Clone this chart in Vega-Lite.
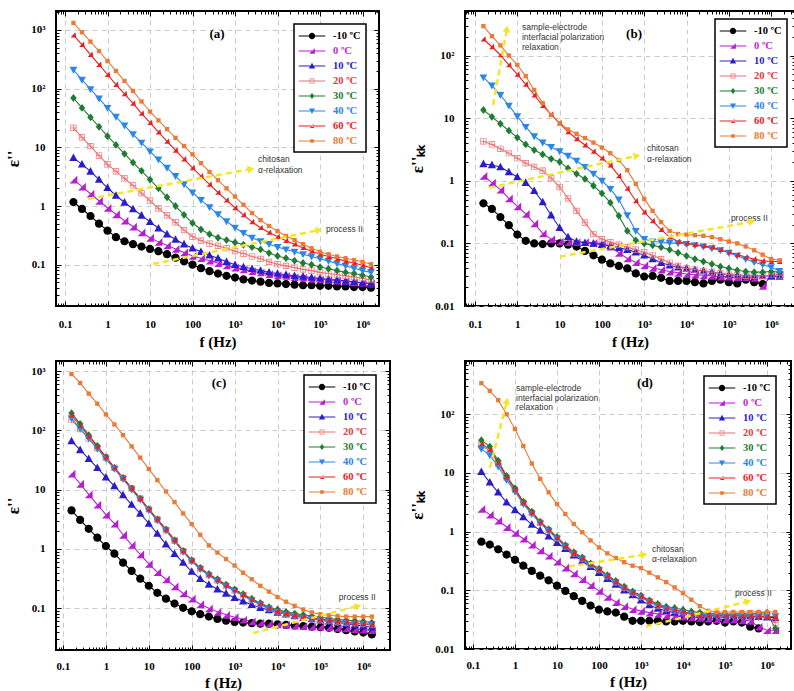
{
"$schema": "https://vega.github.io/schema/vega-lite/v6.json",
"background": "white",
"padding": {"left": 3, "top": 9, "right": 2, "bottom": 2},
"autosize": {"type": "pad"},
"columns": 2,
"spacing": {"row": 55, "column": 75},
"bounds": "flush",
"resolve": {"scale": {"color": "independent", "shape": "independent"}},
"config": {
 "view": {"stroke": "black", "strokeWidth": 2},
 "axis": {"domain": false, "tickColor": "black", "tickWidth": 1, "gridColor": "#c4c4c4", "gridDash": [5,4], "gridWidth": 0.9, "labelFont": "Liberation Serif", "labelFontWeight": "bold", "labelFontSize": 11, "labelColor": "black", "labelFlush": false, "labelOverlap": false, "titleFont": "Liberation Serif", "titleFontWeight": "bold", "titleColor": "black", "titleFontSize": 15},
 "legend": {"strokeColor": "black", "fillColor": "white", "padding": 5, "rowPadding": 2, "labelFont": "Liberation Serif", "labelFontWeight": "bold", "labelFontSize": 10.5, "symbolSize": 196, "symbolOffset": 6, "labelOffset": 14}
},
"datasets": {
"a": [
{"t":"-10","f":0.158,"v":1.17},{"t":"-10","f":0.251,"v":0.891},{"t":"-10","f":0.398,"v":0.676},{"t":"-10","f":0.631,"v":0.501},{"t":"-10","f":1,"v":0.38},{"t":"-10","f":1.58,"v":0.295},{"t":"-10","f":2.51,"v":0.251},{"t":"-10","f":3.98,"v":0.224},{"t":"-10","f":6.31,"v":0.204},{"t":"-10","f":10,"v":0.186},{"t":"-10","f":15.8,"v":0.17},{"t":"-10","f":25.1,"v":0.151},{"t":"-10","f":39.8,"v":0.132},{"t":"-10","f":63.1,"v":0.115},{"t":"-10","f":100,"v":0.1},{"t":"-10","f":158,"v":0.0871},{"t":"-10","f":251,"v":0.0776},{"t":"-10","f":398,"v":0.0708},{"t":"-10","f":631,"v":0.0646},{"t":"-10","f":1000,"v":0.0603},{"t":"-10","f":1580,"v":0.0562},{"t":"-10","f":2510,"v":0.0537},{"t":"-10","f":3980,"v":0.0513},{"t":"-10","f":6310,"v":0.049},{"t":"-10","f":10000,"v":0.0479},{"t":"-10","f":15800,"v":0.0468},{"t":"-10","f":25100,"v":0.0457},{"t":"-10","f":39800,"v":0.0447},{"t":"-10","f":63100,"v":0.0447},{"t":"-10","f":100000,"v":0.0437},{"t":"-10","f":158000,"v":0.0437},{"t":"-10","f":251000,"v":0.0427},{"t":"-10","f":398000,"v":0.0427},{"t":"-10","f":631000,"v":0.0417},{"t":"-10","f":1000000,"v":0.0417},{"t":"-10","f":1580000,"v":0.0407},
{"t":"0","f":0.158,"v":2.82},{"t":"0","f":0.251,"v":2.14},{"t":"0","f":0.398,"v":1.62},{"t":"0","f":0.631,"v":1.23},{"t":"0","f":1,"v":0.933},{"t":"0","f":1.58,"v":0.724},{"t":"0","f":2.51,"v":0.562},{"t":"0","f":3.98,"v":0.447},{"t":"0","f":6.31,"v":0.355},{"t":"0","f":10,"v":0.288},{"t":"0","f":15.8,"v":0.245},{"t":"0","f":25.1,"v":0.214},{"t":"0","f":39.8,"v":0.186},{"t":"0","f":63.1,"v":0.162},{"t":"0","f":100,"v":0.141},{"t":"0","f":158,"v":0.129},{"t":"0","f":251,"v":0.117},{"t":"0","f":398,"v":0.107},{"t":"0","f":631,"v":0.0977},{"t":"0","f":1000,"v":0.0891},{"t":"0","f":1580,"v":0.0832},{"t":"0","f":2510,"v":0.0776},{"t":"0","f":3980,"v":0.0741},{"t":"0","f":6310,"v":0.0692},{"t":"0","f":10000,"v":0.0661},{"t":"0","f":15800,"v":0.0646},{"t":"0","f":25100,"v":0.0617},{"t":"0","f":39800,"v":0.0603},{"t":"0","f":63100,"v":0.0575},{"t":"0","f":100000,"v":0.0562},{"t":"0","f":158000,"v":0.055},{"t":"0","f":251000,"v":0.0537},{"t":"0","f":398000,"v":0.0525},{"t":"0","f":631000,"v":0.0501},{"t":"0","f":1000000,"v":0.049},{"t":"0","f":1580000,"v":0.0479},
{"t":"10","f":0.158,"v":6.61},{"t":"10","f":0.251,"v":5.13},{"t":"10","f":0.398,"v":3.89},{"t":"10","f":0.631,"v":2.82},{"t":"10","f":1,"v":2.04},{"t":"10","f":1.58,"v":1.51},{"t":"10","f":2.51,"v":1.15},{"t":"10","f":3.98,"v":0.891},{"t":"10","f":6.31,"v":0.692},{"t":"10","f":10,"v":0.537},{"t":"10","f":15.8,"v":0.417},{"t":"10","f":25.1,"v":0.331},{"t":"10","f":39.8,"v":0.269},{"t":"10","f":63.1,"v":0.224},{"t":"10","f":100,"v":0.191},{"t":"10","f":158,"v":0.166},{"t":"10","f":251,"v":0.145},{"t":"10","f":398,"v":0.129},{"t":"10","f":631,"v":0.112},{"t":"10","f":1000,"v":0.1},{"t":"10","f":1580,"v":0.0912},{"t":"10","f":2510,"v":0.0851},{"t":"10","f":3980,"v":0.0794},{"t":"10","f":6310,"v":0.0741},{"t":"10","f":10000,"v":0.0708},{"t":"10","f":15800,"v":0.0676},{"t":"10","f":25100,"v":0.0646},{"t":"10","f":39800,"v":0.0631},{"t":"10","f":63100,"v":0.0603},{"t":"10","f":100000,"v":0.0589},{"t":"10","f":158000,"v":0.0562},{"t":"10","f":251000,"v":0.055},{"t":"10","f":398000,"v":0.0525},{"t":"10","f":631000,"v":0.0513},{"t":"10","f":1000000,"v":0.049},{"t":"10","f":1580000,"v":0.0479},
{"t":"20","f":0.158,"v":21.4},{"t":"20","f":0.251,"v":14.8},{"t":"20","f":0.398,"v":10.5},{"t":"20","f":0.631,"v":7.24},{"t":"20","f":1,"v":5.13},{"t":"20","f":1.58,"v":3.89},{"t":"20","f":2.51,"v":2.95},{"t":"20","f":3.98,"v":2.24},{"t":"20","f":6.31,"v":1.66},{"t":"20","f":10,"v":1.23},{"t":"20","f":15.8,"v":0.912},{"t":"20","f":25.1,"v":0.692},{"t":"20","f":39.8,"v":0.525},{"t":"20","f":63.1,"v":0.389},{"t":"20","f":100,"v":0.302},{"t":"20","f":158,"v":0.257},{"t":"20","f":251,"v":0.229},{"t":"20","f":398,"v":0.209},{"t":"20","f":631,"v":0.191},{"t":"20","f":1000,"v":0.17},{"t":"20","f":1580,"v":0.155},{"t":"20","f":2510,"v":0.138},{"t":"20","f":3980,"v":0.126},{"t":"20","f":6310,"v":0.112},{"t":"20","f":10000,"v":0.102},{"t":"20","f":15800,"v":0.0955},{"t":"20","f":25100,"v":0.0891},{"t":"20","f":39800,"v":0.0832},{"t":"20","f":63100,"v":0.0794},{"t":"20","f":100000,"v":0.0741},{"t":"20","f":158000,"v":0.0708},{"t":"20","f":251000,"v":0.0676},{"t":"20","f":398000,"v":0.0646},{"t":"20","f":631000,"v":0.0617},{"t":"20","f":1000000,"v":0.0589},{"t":"20","f":1580000,"v":0.055},
{"t":"30","f":0.158,"v":69.2},{"t":"30","f":0.251,"v":46.8},{"t":"30","f":0.398,"v":32.4},{"t":"30","f":0.631,"v":22.4},{"t":"30","f":1,"v":15.5},{"t":"30","f":1.58,"v":11},{"t":"30","f":2.51,"v":7.76},{"t":"30","f":3.98,"v":5.5},{"t":"30","f":6.31,"v":3.98},{"t":"30","f":10,"v":2.82},{"t":"30","f":15.8,"v":2},{"t":"30","f":25.1,"v":1.41},{"t":"30","f":39.8,"v":1},{"t":"30","f":63.1,"v":0.708},{"t":"30","f":100,"v":0.513},{"t":"30","f":158,"v":0.398},{"t":"30","f":251,"v":0.331},{"t":"30","f":398,"v":0.288},{"t":"30","f":631,"v":0.263},{"t":"30","f":1000,"v":0.24},{"t":"30","f":1580,"v":0.219},{"t":"30","f":2510,"v":0.2},{"t":"30","f":3980,"v":0.182},{"t":"30","f":6310,"v":0.158},{"t":"30","f":10000,"v":0.141},{"t":"30","f":15800,"v":0.129},{"t":"30","f":25100,"v":0.117},{"t":"30","f":39800,"v":0.107},{"t":"30","f":63100,"v":0.1},{"t":"30","f":100000,"v":0.0912},{"t":"30","f":158000,"v":0.0851},{"t":"30","f":251000,"v":0.0794},{"t":"30","f":398000,"v":0.0741},{"t":"30","f":631000,"v":0.0708},{"t":"30","f":1000000,"v":0.0661},{"t":"30","f":1580000,"v":0.0617},
{"t":"40","f":0.158,"v":209},{"t":"40","f":0.251,"v":141},{"t":"40","f":0.398,"v":97.7},{"t":"40","f":0.631,"v":67.6},{"t":"40","f":1,"v":46.8},{"t":"40","f":1.58,"v":33.1},{"t":"40","f":2.51,"v":23.4},{"t":"40","f":3.98,"v":16.6},{"t":"40","f":6.31,"v":12},{"t":"40","f":10,"v":8.51},{"t":"40","f":15.8,"v":6.17},{"t":"40","f":25.1,"v":4.47},{"t":"40","f":39.8,"v":3.24},{"t":"40","f":63.1,"v":2.34},{"t":"40","f":100,"v":1.7},{"t":"40","f":158,"v":1.26},{"t":"40","f":251,"v":0.955},{"t":"40","f":398,"v":0.724},{"t":"40","f":631,"v":0.55},{"t":"40","f":1000,"v":0.427},{"t":"40","f":1580,"v":0.347},{"t":"40","f":2510,"v":0.288},{"t":"40","f":3980,"v":0.251},{"t":"40","f":6310,"v":0.224},{"t":"40","f":10000,"v":0.2},{"t":"40","f":15800,"v":0.182},{"t":"40","f":25100,"v":0.166},{"t":"40","f":39800,"v":0.151},{"t":"40","f":63100,"v":0.138},{"t":"40","f":100000,"v":0.126},{"t":"40","f":158000,"v":0.115},{"t":"40","f":251000,"v":0.105},{"t":"40","f":398000,"v":0.0955},{"t":"40","f":631000,"v":0.0871},{"t":"40","f":1000000,"v":0.0794},{"t":"40","f":1580000,"v":0.0741},
{"t":"60","f":0.158,"v":813},{"t":"60","f":0.251,"v":562},{"t":"60","f":0.398,"v":380},{"t":"60","f":0.631,"v":257},{"t":"60","f":1,"v":174},{"t":"60","f":1.58,"v":117},{"t":"60","f":2.51,"v":81.3},{"t":"60","f":3.98,"v":56.2},{"t":"60","f":6.31,"v":38},{"t":"60","f":10,"v":26.3},{"t":"60","f":15.8,"v":18.2},{"t":"60","f":25.1,"v":12.6},{"t":"60","f":39.8,"v":8.91},{"t":"60","f":63.1,"v":6.31},{"t":"60","f":100,"v":4.47},{"t":"60","f":158,"v":3.24},{"t":"60","f":251,"v":2.34},{"t":"60","f":398,"v":1.7},{"t":"60","f":631,"v":1.26},{"t":"60","f":1000,"v":0.933},{"t":"60","f":1580,"v":0.708},{"t":"60","f":2510,"v":0.537},{"t":"60","f":3980,"v":0.427},{"t":"60","f":6310,"v":0.355},{"t":"60","f":10000,"v":0.302},{"t":"60","f":15800,"v":0.257},{"t":"60","f":25100,"v":0.224},{"t":"60","f":39800,"v":0.195},{"t":"60","f":63100,"v":0.17},{"t":"60","f":100000,"v":0.151},{"t":"60","f":158000,"v":0.138},{"t":"60","f":251000,"v":0.126},{"t":"60","f":398000,"v":0.115},{"t":"60","f":631000,"v":0.107},{"t":"60","f":1000000,"v":0.0977},{"t":"60","f":1580000,"v":0.0891},
{"t":"80","f":0.158,"v":1318},{"t":"80","f":0.251,"v":912},{"t":"80","f":0.398,"v":631},{"t":"80","f":0.631,"v":437},{"t":"80","f":1,"v":295},{"t":"80","f":1.58,"v":200},{"t":"80","f":2.51,"v":135},{"t":"80","f":3.98,"v":91.2},{"t":"80","f":6.31,"v":60.3},{"t":"80","f":10,"v":40.7},{"t":"80","f":15.8,"v":28.8},{"t":"80","f":25.1,"v":20.4},{"t":"80","f":39.8,"v":14.5},{"t":"80","f":63.1,"v":10.5},{"t":"80","f":100,"v":7.59},{"t":"80","f":158,"v":5.37},{"t":"80","f":251,"v":3.8},{"t":"80","f":398,"v":2.75},{"t":"80","f":631,"v":2},{"t":"80","f":1000,"v":1.45},{"t":"80","f":1580,"v":1.05},{"t":"80","f":2510,"v":0.759},{"t":"80","f":3980,"v":0.575},{"t":"80","f":6310,"v":0.457},{"t":"80","f":10000,"v":0.372},{"t":"80","f":15800,"v":0.309},{"t":"80","f":25100,"v":0.263},{"t":"80","f":39800,"v":0.224},{"t":"80","f":63100,"v":0.191},{"t":"80","f":100000,"v":0.166},{"t":"80","f":158000,"v":0.151},{"t":"80","f":251000,"v":0.138},{"t":"80","f":398000,"v":0.129},{"t":"80","f":631000,"v":0.12},{"t":"80","f":1000000,"v":0.112},{"t":"80","f":1580000,"v":0.102}
],
"b": [
{"t":"-10","f":0.158,"v":0.437},{"t":"-10","f":0.251,"v":0.355},{"t":"-10","f":0.398,"v":0.263},{"t":"-10","f":0.631,"v":0.195},{"t":"-10","f":1,"v":0.138},{"t":"-10","f":1.58,"v":0.11},{"t":"-10","f":2.51,"v":0.1},{"t":"-10","f":3.98,"v":0.0977},{"t":"-10","f":6.31,"v":0.1},{"t":"-10","f":10,"v":0.1},{"t":"-10","f":15.8,"v":0.0955},{"t":"-10","f":25.1,"v":0.0891},{"t":"-10","f":39.8,"v":0.0759},{"t":"-10","f":63.1,"v":0.0646},{"t":"-10","f":100,"v":0.055},{"t":"-10","f":158,"v":0.0479},{"t":"-10","f":251,"v":0.0437},{"t":"-10","f":398,"v":0.0398},{"t":"-10","f":631,"v":0.0331},{"t":"-10","f":1000,"v":0.0295},{"t":"-10","f":1580,"v":0.0302},{"t":"-10","f":2510,"v":0.0282},{"t":"-10","f":3980,"v":0.0251},{"t":"-10","f":6310,"v":0.0251},{"t":"-10","f":10000,"v":0.0251},{"t":"-10","f":15800,"v":0.024},{"t":"-10","f":25100,"v":0.0229},{"t":"-10","f":39800,"v":0.0251},{"t":"-10","f":63100,"v":0.0263},{"t":"-10","f":100000,"v":0.024},{"t":"-10","f":158000,"v":0.0229},{"t":"-10","f":251000,"v":0.0263},{"t":"-10","f":398000,"v":0.024},{"t":"-10","f":631000,"v":0.0224},
{"t":"0","f":0.158,"v":1.2},{"t":"0","f":0.251,"v":0.933},{"t":"0","f":0.398,"v":0.724},{"t":"0","f":0.631,"v":0.525},{"t":"0","f":1,"v":0.389},{"t":"0","f":1.58,"v":0.295},{"t":"0","f":2.51,"v":0.209},{"t":"0","f":3.98,"v":0.145},{"t":"0","f":6.31,"v":0.117},{"t":"0","f":10,"v":0.107},{"t":"0","f":15.8,"v":0.105},{"t":"0","f":25.1,"v":0.105},{"t":"0","f":39.8,"v":0.105},{"t":"0","f":63.1,"v":0.102},{"t":"0","f":100,"v":0.1},{"t":"0","f":158,"v":0.0891},{"t":"0","f":251,"v":0.0708},{"t":"0","f":398,"v":0.0575},{"t":"0","f":631,"v":0.0501},{"t":"0","f":1000,"v":0.0447},{"t":"0","f":1580,"v":0.0407},{"t":"0","f":2510,"v":0.038},{"t":"0","f":3980,"v":0.0355},{"t":"0","f":6310,"v":0.0339},{"t":"0","f":10000,"v":0.0324},{"t":"0","f":15800,"v":0.0316},{"t":"0","f":25100,"v":0.0309},{"t":"0","f":39800,"v":0.0302},{"t":"0","f":63100,"v":0.0295},{"t":"0","f":100000,"v":0.0295},{"t":"0","f":158000,"v":0.0288},{"t":"0","f":251000,"v":0.0288},{"t":"0","f":398000,"v":0.0282},{"t":"0","f":631000,"v":0.0209},{"t":"0","f":1000000,"v":0.0302},{"t":"0","f":1580000,"v":0.0324},
{"t":"10","f":0.158,"v":1.86},{"t":"10","f":0.251,"v":1.78},{"t":"10","f":0.398,"v":1.66},{"t":"10","f":0.631,"v":1.38},{"t":"10","f":1,"v":1.15},{"t":"10","f":1.58,"v":0.933},{"t":"10","f":2.51,"v":0.692},{"t":"10","f":3.98,"v":0.457},{"t":"10","f":6.31,"v":0.282},{"t":"10","f":10,"v":0.178},{"t":"10","f":15.8,"v":0.126},{"t":"10","f":25.1,"v":0.107},{"t":"10","f":39.8,"v":0.102},{"t":"10","f":63.1,"v":0.1},{"t":"10","f":100,"v":0.0955},{"t":"10","f":158,"v":0.0912},{"t":"10","f":251,"v":0.0851},{"t":"10","f":398,"v":0.0794},{"t":"10","f":631,"v":0.0724},{"t":"10","f":1000,"v":0.0646},{"t":"10","f":1580,"v":0.0562},{"t":"10","f":2510,"v":0.049},{"t":"10","f":3980,"v":0.0447},{"t":"10","f":6310,"v":0.0417},{"t":"10","f":10000,"v":0.0398},{"t":"10","f":15800,"v":0.038},{"t":"10","f":25100,"v":0.0363},{"t":"10","f":39800,"v":0.0347},{"t":"10","f":63100,"v":0.0331},{"t":"10","f":100000,"v":0.0316},{"t":"10","f":158000,"v":0.0309},{"t":"10","f":251000,"v":0.0302},{"t":"10","f":398000,"v":0.0302},{"t":"10","f":631000,"v":0.0302},{"t":"10","f":1000000,"v":0.0302},{"t":"10","f":1580000,"v":0.0295},
{"t":"20","f":0.158,"v":4.27},{"t":"20","f":0.251,"v":3.8},{"t":"20","f":0.398,"v":3.24},{"t":"20","f":0.631,"v":2.75},{"t":"20","f":1,"v":2.29},{"t":"20","f":1.58,"v":1.91},{"t":"20","f":2.51,"v":1.66},{"t":"20","f":3.98,"v":1.45},{"t":"20","f":6.31,"v":1.1},{"t":"20","f":10,"v":0.794},{"t":"20","f":15.8,"v":0.525},{"t":"20","f":25.1,"v":0.331},{"t":"20","f":39.8,"v":0.214},{"t":"20","f":63.1,"v":0.141},{"t":"20","f":100,"v":0.117},{"t":"20","f":158,"v":0.105},{"t":"20","f":251,"v":0.0955},{"t":"20","f":398,"v":0.0871},{"t":"20","f":631,"v":0.0794},{"t":"20","f":1000,"v":0.0724},{"t":"20","f":1580,"v":0.0646},{"t":"20","f":2510,"v":0.0562},{"t":"20","f":3980,"v":0.049},{"t":"20","f":6310,"v":0.0437},{"t":"20","f":10000,"v":0.0398},{"t":"20","f":15800,"v":0.038},{"t":"20","f":25100,"v":0.0363},{"t":"20","f":39800,"v":0.0347},{"t":"20","f":63100,"v":0.0331},{"t":"20","f":100000,"v":0.0316},{"t":"20","f":158000,"v":0.0309},{"t":"20","f":251000,"v":0.0302},{"t":"20","f":398000,"v":0.0302},{"t":"20","f":631000,"v":0.0302},{"t":"20","f":1000000,"v":0.0316},{"t":"20","f":1580000,"v":0.0309},
{"t":"30","f":0.158,"v":13.5},{"t":"30","f":0.251,"v":10.5},{"t":"30","f":0.398,"v":8.13},{"t":"30","f":0.631,"v":6.31},{"t":"30","f":1,"v":4.9},{"t":"30","f":1.58,"v":3.8},{"t":"30","f":2.51,"v":3.09},{"t":"30","f":3.98,"v":2.63},{"t":"30","f":6.31,"v":2.24},{"t":"30","f":10,"v":2},{"t":"30","f":15.8,"v":1.58},{"t":"30","f":25.1,"v":1.29},{"t":"30","f":39.8,"v":1.07},{"t":"30","f":63.1,"v":0.832},{"t":"30","f":100,"v":0.631},{"t":"30","f":158,"v":0.447},{"t":"30","f":251,"v":0.275},{"t":"30","f":398,"v":0.158},{"t":"30","f":631,"v":0.112},{"t":"30","f":1000,"v":0.1},{"t":"30","f":1580,"v":0.0933},{"t":"30","f":2510,"v":0.0871},{"t":"30","f":3980,"v":0.0794},{"t":"30","f":6310,"v":0.0708},{"t":"30","f":10000,"v":0.0631},{"t":"30","f":15800,"v":0.0562},{"t":"30","f":25100,"v":0.0513},{"t":"30","f":39800,"v":0.0468},{"t":"30","f":63100,"v":0.0427},{"t":"30","f":100000,"v":0.0398},{"t":"30","f":158000,"v":0.0372},{"t":"30","f":251000,"v":0.0355},{"t":"30","f":398000,"v":0.0347},{"t":"30","f":631000,"v":0.0347},{"t":"30","f":1000000,"v":0.0355},{"t":"30","f":1580000,"v":0.0347},
{"t":"40","f":0.158,"v":44.7},{"t":"40","f":0.251,"v":33.1},{"t":"40","f":0.398,"v":23.4},{"t":"40","f":0.631,"v":15.8},{"t":"40","f":1,"v":10.7},{"t":"40","f":1.58,"v":7.24},{"t":"40","f":2.51,"v":5.13},{"t":"40","f":3.98,"v":4.07},{"t":"40","f":6.31,"v":3.47},{"t":"40","f":10,"v":2.95},{"t":"40","f":15.8,"v":2.51},{"t":"40","f":25.1,"v":2.09},{"t":"40","f":39.8,"v":1.66},{"t":"40","f":63.1,"v":1.29},{"t":"40","f":100,"v":1},{"t":"40","f":158,"v":0.741},{"t":"40","f":251,"v":0.501},{"t":"40","f":398,"v":0.282},{"t":"40","f":631,"v":0.158},{"t":"40","f":1000,"v":0.117},{"t":"40","f":1580,"v":0.107},{"t":"40","f":2510,"v":0.105},{"t":"40","f":3980,"v":0.102},{"t":"40","f":6310,"v":0.1},{"t":"40","f":10000,"v":0.0977},{"t":"40","f":15800,"v":0.0933},{"t":"40","f":25100,"v":0.0891},{"t":"40","f":39800,"v":0.0832},{"t":"40","f":63100,"v":0.0776},{"t":"40","f":100000,"v":0.0708},{"t":"40","f":158000,"v":0.0631},{"t":"40","f":251000,"v":0.0562},{"t":"40","f":398000,"v":0.0501},{"t":"40","f":631000,"v":0.0457},{"t":"40","f":1000000,"v":0.0417},{"t":"40","f":1580000,"v":0.0363},
{"t":"60","f":0.158,"v":182},{"t":"60","f":0.251,"v":138},{"t":"60","f":0.398,"v":102},{"t":"60","f":0.631,"v":70.8},{"t":"60","f":1,"v":50.1},{"t":"60","f":1.58,"v":34.7},{"t":"60","f":2.51,"v":23.4},{"t":"60","f":3.98,"v":15.8},{"t":"60","f":6.31,"v":11.5},{"t":"60","f":10,"v":8.32},{"t":"60","f":15.8,"v":6.03},{"t":"60","f":25.1,"v":4.68},{"t":"60","f":39.8,"v":3.72},{"t":"60","f":63.1,"v":2.95},{"t":"60","f":100,"v":2.29},{"t":"60","f":158,"v":1.78},{"t":"60","f":251,"v":1.2},{"t":"60","f":398,"v":0.759},{"t":"60","f":631,"v":0.479},{"t":"60","f":1000,"v":0.316},{"t":"60","f":1580,"v":0.229},{"t":"60","f":2510,"v":0.166},{"t":"60","f":3980,"v":0.126},{"t":"60","f":6310,"v":0.107},{"t":"60","f":10000,"v":0.1},{"t":"60","f":15800,"v":0.0955},{"t":"60","f":25100,"v":0.0912},{"t":"60","f":39800,"v":0.0871},{"t":"60","f":63100,"v":0.0794},{"t":"60","f":100000,"v":0.0724},{"t":"60","f":158000,"v":0.0661},{"t":"60","f":251000,"v":0.0603},{"t":"60","f":398000,"v":0.0562},{"t":"60","f":631000,"v":0.0525},{"t":"60","f":1000000,"v":0.0513},{"t":"60","f":1580000,"v":0.0513},
{"t":"80","f":0.158,"v":295},{"t":"80","f":0.251,"v":204},{"t":"80","f":0.398,"v":145},{"t":"80","f":0.631,"v":100},{"t":"80","f":1,"v":70.8},{"t":"80","f":1.58,"v":46.8},{"t":"80","f":2.51,"v":28.2},{"t":"80","f":3.98,"v":17.4},{"t":"80","f":6.31,"v":11.2},{"t":"80","f":10,"v":8.32},{"t":"80","f":15.8,"v":6.61},{"t":"80","f":25.1,"v":5.62},{"t":"80","f":39.8,"v":4.79},{"t":"80","f":63.1,"v":4.07},{"t":"80","f":100,"v":3.39},{"t":"80","f":158,"v":2.75},{"t":"80","f":251,"v":2.14},{"t":"80","f":398,"v":1.48},{"t":"80","f":631,"v":0.891},{"t":"80","f":1000,"v":0.513},{"t":"80","f":1580,"v":0.331},{"t":"80","f":2510,"v":0.219},{"t":"80","f":3980,"v":0.158},{"t":"80","f":6310,"v":0.141},{"t":"80","f":10000,"v":0.138},{"t":"80","f":15800,"v":0.135},{"t":"80","f":25100,"v":0.132},{"t":"80","f":39800,"v":0.126},{"t":"80","f":63100,"v":0.117},{"t":"80","f":100000,"v":0.107},{"t":"80","f":158000,"v":0.1},{"t":"80","f":251000,"v":0.0891},{"t":"80","f":398000,"v":0.0776},{"t":"80","f":631000,"v":0.0661},{"t":"80","f":1000000,"v":0.0562},{"t":"80","f":1580000,"v":0.0537}
],
"c": [
{"t":"-10","f":0.158,"v":4.47},{"t":"-10","f":0.251,"v":3.09},{"t":"-10","f":0.398,"v":2.19},{"t":"-10","f":0.631,"v":1.55},{"t":"-10","f":1,"v":1.12},{"t":"-10","f":1.58,"v":0.832},{"t":"-10","f":2.51,"v":0.589},{"t":"-10","f":3.98,"v":0.427},{"t":"-10","f":6.31,"v":0.316},{"t":"-10","f":10,"v":0.24},{"t":"-10","f":15.8,"v":0.182},{"t":"-10","f":25.1,"v":0.145},{"t":"-10","f":39.8,"v":0.12},{"t":"-10","f":63.1,"v":0.102},{"t":"-10","f":100,"v":0.0891},{"t":"-10","f":158,"v":0.0794},{"t":"-10","f":251,"v":0.0724},{"t":"-10","f":398,"v":0.0661},{"t":"-10","f":631,"v":0.0617},{"t":"-10","f":1000,"v":0.0589},{"t":"-10","f":1580,"v":0.0575},{"t":"-10","f":2510,"v":0.0562},{"t":"-10","f":3980,"v":0.055},{"t":"-10","f":6310,"v":0.055},{"t":"-10","f":10000,"v":0.0537},{"t":"-10","f":15800,"v":0.0525},{"t":"-10","f":25100,"v":0.0513},{"t":"-10","f":39800,"v":0.0501},{"t":"-10","f":63100,"v":0.049},{"t":"-10","f":100000,"v":0.0479},{"t":"-10","f":158000,"v":0.0468},{"t":"-10","f":251000,"v":0.0447},{"t":"-10","f":398000,"v":0.0427},{"t":"-10","f":631000,"v":0.0407},{"t":"-10","f":1000000,"v":0.0389},{"t":"-10","f":1580000,"v":0.0363},
{"t":"0","f":0.158,"v":18.6},{"t":"0","f":0.251,"v":12.6},{"t":"0","f":0.398,"v":8.32},{"t":"0","f":0.631,"v":5.62},{"t":"0","f":1,"v":3.8},{"t":"0","f":1.58,"v":2.69},{"t":"0","f":2.51,"v":1.74},{"t":"0","f":3.98,"v":1.17},{"t":"0","f":6.31,"v":0.813},{"t":"0","f":10,"v":0.562},{"t":"0","f":15.8,"v":0.407},{"t":"0","f":25.1,"v":0.309},{"t":"0","f":39.8,"v":0.234},{"t":"0","f":63.1,"v":0.178},{"t":"0","f":100,"v":0.145},{"t":"0","f":158,"v":0.117},{"t":"0","f":251,"v":0.1},{"t":"0","f":398,"v":0.0871},{"t":"0","f":631,"v":0.0776},{"t":"0","f":1000,"v":0.0708},{"t":"0","f":1580,"v":0.0646},{"t":"0","f":2510,"v":0.0603},{"t":"0","f":3980,"v":0.0575},{"t":"0","f":6310,"v":0.055},{"t":"0","f":10000,"v":0.0537},{"t":"0","f":15800,"v":0.0525},{"t":"0","f":25100,"v":0.0513},{"t":"0","f":39800,"v":0.0501},{"t":"0","f":63100,"v":0.049},{"t":"0","f":100000,"v":0.049},{"t":"0","f":158000,"v":0.0479},{"t":"0","f":251000,"v":0.0468},{"t":"0","f":398000,"v":0.0457},{"t":"0","f":631000,"v":0.0447},{"t":"0","f":1000000,"v":0.0437},{"t":"0","f":1580000,"v":0.0427},
{"t":"10","f":0.158,"v":66.1},{"t":"10","f":0.251,"v":46.8},{"t":"10","f":0.398,"v":33.1},{"t":"10","f":0.631,"v":23.4},{"t":"10","f":1,"v":16.2},{"t":"10","f":1.58,"v":11.5},{"t":"10","f":2.51,"v":8.13},{"t":"10","f":3.98,"v":5.62},{"t":"10","f":6.31,"v":3.98},{"t":"10","f":10,"v":2.69},{"t":"10","f":15.8,"v":1.82},{"t":"10","f":25.1,"v":1.2},{"t":"10","f":39.8,"v":0.832},{"t":"10","f":63.1,"v":0.589},{"t":"10","f":100,"v":0.417},{"t":"10","f":158,"v":0.316},{"t":"10","f":251,"v":0.251},{"t":"10","f":398,"v":0.209},{"t":"10","f":631,"v":0.178},{"t":"10","f":1000,"v":0.151},{"t":"10","f":1580,"v":0.132},{"t":"10","f":2510,"v":0.115},{"t":"10","f":3980,"v":0.102},{"t":"10","f":6310,"v":0.0933},{"t":"10","f":10000,"v":0.0851},{"t":"10","f":15800,"v":0.0794},{"t":"10","f":25100,"v":0.0741},{"t":"10","f":39800,"v":0.0692},{"t":"10","f":63100,"v":0.0661},{"t":"10","f":100000,"v":0.0631},{"t":"10","f":158000,"v":0.0603},{"t":"10","f":251000,"v":0.0575},{"t":"10","f":398000,"v":0.055},{"t":"10","f":631000,"v":0.0525},{"t":"10","f":1000000,"v":0.0501},{"t":"10","f":1580000,"v":0.0479},
{"t":"20","f":0.158,"v":150},{"t":"20","f":0.251,"v":105},{"t":"20","f":0.398,"v":72.4},{"t":"20","f":0.631,"v":50.1},{"t":"20","f":1,"v":34.7},{"t":"20","f":1.58,"v":23.4},{"t":"20","f":2.51,"v":15.8},{"t":"20","f":3.98,"v":10.5},{"t":"20","f":6.31,"v":7.08},{"t":"20","f":10,"v":4.68},{"t":"20","f":15.8,"v":3.16},{"t":"20","f":25.1,"v":2.09},{"t":"20","f":39.8,"v":1.38},{"t":"20","f":63.1,"v":0.912},{"t":"20","f":100,"v":0.631},{"t":"20","f":158,"v":0.468},{"t":"20","f":251,"v":0.363},{"t":"20","f":398,"v":0.295},{"t":"20","f":631,"v":0.24},{"t":"20","f":1000,"v":0.2},{"t":"20","f":1580,"v":0.166},{"t":"20","f":2510,"v":0.138},{"t":"20","f":3980,"v":0.117},{"t":"20","f":6310,"v":0.1},{"t":"20","f":10000,"v":0.0891},{"t":"20","f":15800,"v":0.0813},{"t":"20","f":25100,"v":0.0759},{"t":"20","f":39800,"v":0.0708},{"t":"20","f":63100,"v":0.0676},{"t":"20","f":100000,"v":0.0646},{"t":"20","f":158000,"v":0.0617},{"t":"20","f":251000,"v":0.0589},{"t":"20","f":398000,"v":0.0575},{"t":"20","f":631000,"v":0.0562},{"t":"20","f":1000000,"v":0.055},{"t":"20","f":1580000,"v":0.0537},
{"t":"30","f":0.158,"v":195},{"t":"30","f":0.251,"v":129},{"t":"30","f":0.398,"v":83.2},{"t":"30","f":0.631,"v":55},{"t":"30","f":1,"v":35.5},{"t":"30","f":1.58,"v":23.4},{"t":"30","f":2.51,"v":15.8},{"t":"30","f":3.98,"v":10.5},{"t":"30","f":6.31,"v":7.08},{"t":"30","f":10,"v":4.68},{"t":"30","f":15.8,"v":3.16},{"t":"30","f":25.1,"v":2.14},{"t":"30","f":39.8,"v":1.41},{"t":"30","f":63.1,"v":0.933},{"t":"30","f":100,"v":0.646},{"t":"30","f":158,"v":0.479},{"t":"30","f":251,"v":0.38},{"t":"30","f":398,"v":0.309},{"t":"30","f":631,"v":0.251},{"t":"30","f":1000,"v":0.209},{"t":"30","f":1580,"v":0.174},{"t":"30","f":2510,"v":0.145},{"t":"30","f":3980,"v":0.123},{"t":"30","f":6310,"v":0.105},{"t":"30","f":10000,"v":0.0955},{"t":"30","f":15800,"v":0.0871},{"t":"30","f":25100,"v":0.0813},{"t":"30","f":39800,"v":0.0776},{"t":"30","f":63100,"v":0.0741},{"t":"30","f":100000,"v":0.0708},{"t":"30","f":158000,"v":0.0676},{"t":"30","f":251000,"v":0.0646},{"t":"30","f":398000,"v":0.0631},{"t":"30","f":631000,"v":0.0617},{"t":"30","f":1000000,"v":0.0603},{"t":"30","f":1580000,"v":0.0575},
{"t":"40","f":0.158,"v":160},{"t":"40","f":0.251,"v":107},{"t":"40","f":0.398,"v":72.4},{"t":"40","f":0.631,"v":49},{"t":"40","f":1,"v":33.1},{"t":"40","f":1.58,"v":22.4},{"t":"40","f":2.51,"v":15.1},{"t":"40","f":3.98,"v":10},{"t":"40","f":6.31,"v":6.76},{"t":"40","f":10,"v":4.47},{"t":"40","f":15.8,"v":3.02},{"t":"40","f":25.1,"v":2.04},{"t":"40","f":39.8,"v":1.35},{"t":"40","f":63.1,"v":0.891},{"t":"40","f":100,"v":0.617},{"t":"40","f":158,"v":0.457},{"t":"40","f":251,"v":0.355},{"t":"40","f":398,"v":0.288},{"t":"40","f":631,"v":0.234},{"t":"40","f":1000,"v":0.195},{"t":"40","f":1580,"v":0.162},{"t":"40","f":2510,"v":0.135},{"t":"40","f":3980,"v":0.115},{"t":"40","f":6310,"v":0.0977},{"t":"40","f":10000,"v":0.0871},{"t":"40","f":15800,"v":0.0794},{"t":"40","f":25100,"v":0.0741},{"t":"40","f":39800,"v":0.0692},{"t":"40","f":63100,"v":0.0661},{"t":"40","f":100000,"v":0.0631},{"t":"40","f":158000,"v":0.0603},{"t":"40","f":251000,"v":0.0575},{"t":"40","f":398000,"v":0.0562},{"t":"40","f":631000,"v":0.055},{"t":"40","f":1000000,"v":0.0537},{"t":"40","f":1580000,"v":0.0525},
{"t":"60","f":0.158,"v":182},{"t":"60","f":0.251,"v":120},{"t":"60","f":0.398,"v":79.4},{"t":"60","f":0.631,"v":53.7},{"t":"60","f":1,"v":35.5},{"t":"60","f":1.58,"v":23.4},{"t":"60","f":2.51,"v":15.8},{"t":"60","f":3.98,"v":10.5},{"t":"60","f":6.31,"v":7.08},{"t":"60","f":10,"v":4.68},{"t":"60","f":15.8,"v":3.16},{"t":"60","f":25.1,"v":2.14},{"t":"60","f":39.8,"v":1.41},{"t":"60","f":63.1,"v":0.933},{"t":"60","f":100,"v":0.646},{"t":"60","f":158,"v":0.479},{"t":"60","f":251,"v":0.372},{"t":"60","f":398,"v":0.302},{"t":"60","f":631,"v":0.245},{"t":"60","f":1000,"v":0.204},{"t":"60","f":1580,"v":0.17},{"t":"60","f":2510,"v":0.141},{"t":"60","f":3980,"v":0.12},{"t":"60","f":6310,"v":0.102},{"t":"60","f":10000,"v":0.0912},{"t":"60","f":15800,"v":0.0832},{"t":"60","f":25100,"v":0.0776},{"t":"60","f":39800,"v":0.0724},{"t":"60","f":63100,"v":0.0692},{"t":"60","f":100000,"v":0.0661},{"t":"60","f":158000,"v":0.0631},{"t":"60","f":251000,"v":0.0617},{"t":"60","f":398000,"v":0.0589},{"t":"60","f":631000,"v":0.0575},{"t":"60","f":1000000,"v":0.055},{"t":"60","f":1580000,"v":0.0537},
{"t":"80","f":0.158,"v":891},{"t":"80","f":0.251,"v":631},{"t":"80","f":0.398,"v":417},{"t":"80","f":0.631,"v":282},{"t":"80","f":1,"v":186},{"t":"80","f":1.58,"v":126},{"t":"80","f":2.51,"v":83.2},{"t":"80","f":3.98,"v":53.7},{"t":"80","f":6.31,"v":34.7},{"t":"80","f":10,"v":22.4},{"t":"80","f":15.8,"v":14.5},{"t":"80","f":25.1,"v":9.33},{"t":"80","f":39.8,"v":6.17},{"t":"80","f":63.1,"v":3.98},{"t":"80","f":100,"v":2.63},{"t":"80","f":158,"v":1.74},{"t":"80","f":251,"v":1.15},{"t":"80","f":398,"v":0.871},{"t":"80","f":631,"v":0.676},{"t":"80","f":1000,"v":0.525},{"t":"80","f":1580,"v":0.398},{"t":"80","f":2510,"v":0.309},{"t":"80","f":3980,"v":0.24},{"t":"80","f":6310,"v":0.191},{"t":"80","f":10000,"v":0.155},{"t":"80","f":15800,"v":0.129},{"t":"80","f":25100,"v":0.11},{"t":"80","f":39800,"v":0.0955},{"t":"80","f":63100,"v":0.0851},{"t":"80","f":100000,"v":0.0794},{"t":"80","f":158000,"v":0.0759},{"t":"80","f":251000,"v":0.0741},{"t":"80","f":398000,"v":0.0724},{"t":"80","f":631000,"v":0.0724},{"t":"80","f":1000000,"v":0.0724},{"t":"80","f":1580000,"v":0.0724}
],
"d": [
{"t":"-10","f":0.158,"v":0.676},{"t":"-10","f":0.251,"v":0.603},{"t":"-10","f":0.398,"v":0.501},{"t":"-10","f":0.631,"v":0.407},{"t":"-10","f":1,"v":0.331},{"t":"-10","f":1.58,"v":0.263},{"t":"-10","f":2.51,"v":0.214},{"t":"-10","f":3.98,"v":0.178},{"t":"-10","f":6.31,"v":0.148},{"t":"-10","f":10,"v":0.12},{"t":"-10","f":15.8,"v":0.0977},{"t":"-10","f":25.1,"v":0.0794},{"t":"-10","f":39.8,"v":0.0661},{"t":"-10","f":63.1,"v":0.055},{"t":"-10","f":100,"v":0.0468},{"t":"-10","f":158,"v":0.0437},{"t":"-10","f":251,"v":0.0417},{"t":"-10","f":398,"v":0.0355},{"t":"-10","f":631,"v":0.0302},{"t":"-10","f":1000,"v":0.0302},{"t":"-10","f":1580,"v":0.0302},{"t":"-10","f":2510,"v":0.0302},{"t":"-10","f":3980,"v":0.0295},{"t":"-10","f":6310,"v":0.0295},{"t":"-10","f":10000,"v":0.0302},{"t":"-10","f":15800,"v":0.0295},{"t":"-10","f":25100,"v":0.0288},{"t":"-10","f":39800,"v":0.0295},{"t":"-10","f":63100,"v":0.0302},{"t":"-10","f":100000,"v":0.0282},{"t":"-10","f":158000,"v":0.0295},{"t":"-10","f":251000,"v":0.0282},{"t":"-10","f":398000,"v":0.024},{"t":"-10","f":631000,"v":0.0224},
{"t":"0","f":0.158,"v":2.45},{"t":"0","f":0.251,"v":1.95},{"t":"0","f":0.398,"v":1.55},{"t":"0","f":0.631,"v":1.2},{"t":"0","f":1,"v":0.955},{"t":"0","f":1.58,"v":0.759},{"t":"0","f":2.51,"v":0.603},{"t":"0","f":3.98,"v":0.479},{"t":"0","f":6.31,"v":0.389},{"t":"0","f":10,"v":0.309},{"t":"0","f":15.8,"v":0.245},{"t":"0","f":25.1,"v":0.195},{"t":"0","f":39.8,"v":0.155},{"t":"0","f":63.1,"v":0.123},{"t":"0","f":100,"v":0.0977},{"t":"0","f":158,"v":0.0776},{"t":"0","f":251,"v":0.0631},{"t":"0","f":398,"v":0.0537},{"t":"0","f":631,"v":0.0479},{"t":"0","f":1000,"v":0.0447},{"t":"0","f":1580,"v":0.0417},{"t":"0","f":2510,"v":0.0398},{"t":"0","f":3980,"v":0.038},{"t":"0","f":6310,"v":0.0363},{"t":"0","f":10000,"v":0.0355},{"t":"0","f":15800,"v":0.0347},{"t":"0","f":25100,"v":0.0339},{"t":"0","f":39800,"v":0.0331},{"t":"0","f":63100,"v":0.0324},{"t":"0","f":100000,"v":0.0316},{"t":"0","f":158000,"v":0.0316},{"t":"0","f":251000,"v":0.0309},{"t":"0","f":398000,"v":0.0302},{"t":"0","f":631000,"v":0.024},{"t":"0","f":1000000,"v":0.0209},{"t":"0","f":1580000,"v":0.0209},
{"t":"10","f":0.158,"v":10.5},{"t":"10","f":0.251,"v":6.92},{"t":"10","f":0.398,"v":4.68},{"t":"10","f":0.631,"v":3.16},{"t":"10","f":1,"v":2.34},{"t":"10","f":1.58,"v":1.78},{"t":"10","f":2.51,"v":1.32},{"t":"10","f":3.98,"v":1.05},{"t":"10","f":6.31,"v":0.832},{"t":"10","f":10,"v":0.646},{"t":"10","f":15.8,"v":0.513},{"t":"10","f":25.1,"v":0.398},{"t":"10","f":39.8,"v":0.316},{"t":"10","f":63.1,"v":0.251},{"t":"10","f":100,"v":0.2},{"t":"10","f":158,"v":0.158},{"t":"10","f":251,"v":0.126},{"t":"10","f":398,"v":0.1},{"t":"10","f":631,"v":0.0832},{"t":"10","f":1000,"v":0.0676},{"t":"10","f":1580,"v":0.0562},{"t":"10","f":2510,"v":0.049},{"t":"10","f":3980,"v":0.0447},{"t":"10","f":6310,"v":0.0417},{"t":"10","f":10000,"v":0.0407},{"t":"10","f":15800,"v":0.0398},{"t":"10","f":25100,"v":0.0389},{"t":"10","f":39800,"v":0.0389},{"t":"10","f":63100,"v":0.038},{"t":"10","f":100000,"v":0.038},{"t":"10","f":158000,"v":0.038},{"t":"10","f":251000,"v":0.0372},{"t":"10","f":398000,"v":0.0363},{"t":"10","f":631000,"v":0.0355},{"t":"10","f":1000000,"v":0.0347},{"t":"10","f":1580000,"v":0.0339},
{"t":"20","f":0.158,"v":29.5},{"t":"20","f":0.251,"v":23.4},{"t":"20","f":0.398,"v":14.5},{"t":"20","f":0.631,"v":8.32},{"t":"20","f":1,"v":5.13},{"t":"20","f":1.58,"v":3.09},{"t":"20","f":2.51,"v":2.09},{"t":"20","f":3.98,"v":1.41},{"t":"20","f":6.31,"v":1.05},{"t":"20","f":10,"v":0.776},{"t":"20","f":15.8,"v":0.562},{"t":"20","f":25.1,"v":0.427},{"t":"20","f":39.8,"v":0.347},{"t":"20","f":63.1,"v":0.275},{"t":"20","f":100,"v":0.224},{"t":"20","f":158,"v":0.174},{"t":"20","f":251,"v":0.138},{"t":"20","f":398,"v":0.11},{"t":"20","f":631,"v":0.0912},{"t":"20","f":1000,"v":0.0776},{"t":"20","f":1580,"v":0.0646},{"t":"20","f":2510,"v":0.055},{"t":"20","f":3980,"v":0.049},{"t":"20","f":6310,"v":0.0457},{"t":"20","f":10000,"v":0.0427},{"t":"20","f":15800,"v":0.0407},{"t":"20","f":25100,"v":0.0398},{"t":"20","f":39800,"v":0.0389},{"t":"20","f":63100,"v":0.0389},{"t":"20","f":100000,"v":0.038},{"t":"20","f":158000,"v":0.0389},{"t":"20","f":251000,"v":0.0398},{"t":"20","f":398000,"v":0.0407},{"t":"20","f":631000,"v":0.0398},{"t":"20","f":1000000,"v":0.0363},{"t":"20","f":1580000,"v":0.0282},
{"t":"30","f":0.158,"v":36.3},{"t":"30","f":0.251,"v":28.2},{"t":"30","f":0.398,"v":16.2},{"t":"30","f":0.631,"v":8.91},{"t":"30","f":1,"v":5.5},{"t":"30","f":1.58,"v":3.24},{"t":"30","f":2.51,"v":2.19},{"t":"30","f":3.98,"v":1.48},{"t":"30","f":6.31,"v":1.1},{"t":"30","f":10,"v":0.813},{"t":"30","f":15.8,"v":0.589},{"t":"30","f":25.1,"v":0.447},{"t":"30","f":39.8,"v":0.363},{"t":"30","f":63.1,"v":0.288},{"t":"30","f":100,"v":0.234},{"t":"30","f":158,"v":0.182},{"t":"30","f":251,"v":0.145},{"t":"30","f":398,"v":0.115},{"t":"30","f":631,"v":0.0955},{"t":"30","f":1000,"v":0.0813},{"t":"30","f":1580,"v":0.0676},{"t":"30","f":2510,"v":0.0589},{"t":"30","f":3980,"v":0.0525},{"t":"30","f":6310,"v":0.0501},{"t":"30","f":10000,"v":0.0468},{"t":"30","f":15800,"v":0.0437},{"t":"30","f":25100,"v":0.0417},{"t":"30","f":39800,"v":0.0407},{"t":"30","f":63100,"v":0.0398},{"t":"30","f":100000,"v":0.0398},{"t":"30","f":158000,"v":0.0389},{"t":"30","f":251000,"v":0.0398},{"t":"30","f":398000,"v":0.0389},{"t":"30","f":631000,"v":0.0407},{"t":"30","f":1000000,"v":0.0417},{"t":"30","f":1580000,"v":0.0224},
{"t":"40","f":0.158,"v":25.7},{"t":"40","f":0.251,"v":20},{"t":"40","f":0.398,"v":12.9},{"t":"40","f":0.631,"v":7.59},{"t":"40","f":1,"v":4.79},{"t":"40","f":1.58,"v":2.95},{"t":"40","f":2.51,"v":2},{"t":"40","f":3.98,"v":1.38},{"t":"40","f":6.31,"v":1.02},{"t":"40","f":10,"v":0.759},{"t":"40","f":15.8,"v":0.55},{"t":"40","f":25.1,"v":0.417},{"t":"40","f":39.8,"v":0.339},{"t":"40","f":63.1,"v":0.269},{"t":"40","f":100,"v":0.219},{"t":"40","f":158,"v":0.17},{"t":"40","f":251,"v":0.135},{"t":"40","f":398,"v":0.107},{"t":"40","f":631,"v":0.0891},{"t":"40","f":1000,"v":0.0759},{"t":"40","f":1580,"v":0.0631},{"t":"40","f":2510,"v":0.0537},{"t":"40","f":3980,"v":0.0479},{"t":"40","f":6310,"v":0.0447},{"t":"40","f":10000,"v":0.0417},{"t":"40","f":15800,"v":0.0389},{"t":"40","f":25100,"v":0.0363},{"t":"40","f":39800,"v":0.0355},{"t":"40","f":63100,"v":0.0355},{"t":"40","f":100000,"v":0.0355},{"t":"40","f":158000,"v":0.0355},{"t":"40","f":251000,"v":0.0347},{"t":"40","f":398000,"v":0.0347},{"t":"40","f":631000,"v":0.0347},{"t":"40","f":1000000,"v":0.0355},{"t":"40","f":1580000,"v":0.0363},
{"t":"60","f":0.158,"v":31.6},{"t":"60","f":0.251,"v":25.1},{"t":"60","f":0.398,"v":15.1},{"t":"60","f":0.631,"v":8.51},{"t":"60","f":1,"v":5.25},{"t":"60","f":1.58,"v":3.16},{"t":"60","f":2.51,"v":2.14},{"t":"60","f":3.98,"v":1.45},{"t":"60","f":6.31,"v":1.07},{"t":"60","f":10,"v":0.794},{"t":"60","f":15.8,"v":0.575},{"t":"60","f":25.1,"v":0.437},{"t":"60","f":39.8,"v":0.355},{"t":"60","f":63.1,"v":0.282},{"t":"60","f":100,"v":0.229},{"t":"60","f":158,"v":0.178},{"t":"60","f":251,"v":0.141},{"t":"60","f":398,"v":0.112},{"t":"60","f":631,"v":0.0933},{"t":"60","f":1000,"v":0.0794},{"t":"60","f":1580,"v":0.0661},{"t":"60","f":2510,"v":0.0562},{"t":"60","f":3980,"v":0.0501},{"t":"60","f":6310,"v":0.0468},{"t":"60","f":10000,"v":0.0437},{"t":"60","f":15800,"v":0.0398},{"t":"60","f":25100,"v":0.0372},{"t":"60","f":39800,"v":0.0372},{"t":"60","f":63100,"v":0.0372},{"t":"60","f":100000,"v":0.0372},{"t":"60","f":158000,"v":0.0372},{"t":"60","f":251000,"v":0.0363},{"t":"60","f":398000,"v":0.0363},{"t":"60","f":631000,"v":0.0363},{"t":"60","f":1000000,"v":0.0355},{"t":"60","f":1580000,"v":0.0355},
{"t":"80","f":0.158,"v":339},{"t":"80","f":0.251,"v":251},{"t":"80","f":0.398,"v":174},{"t":"80","f":0.631,"v":100},{"t":"80","f":1,"v":56.2},{"t":"80","f":1.58,"v":28.8},{"t":"80","f":2.51,"v":14.5},{"t":"80","f":3.98,"v":7.94},{"t":"80","f":6.31,"v":4.68},{"t":"80","f":10,"v":2.95},{"t":"80","f":15.8,"v":2},{"t":"80","f":25.1,"v":1.35},{"t":"80","f":39.8,"v":0.977},{"t":"80","f":63.1,"v":0.708},{"t":"80","f":100,"v":0.537},{"t":"80","f":158,"v":0.427},{"t":"80","f":251,"v":0.355},{"t":"80","f":398,"v":0.302},{"t":"80","f":631,"v":0.263},{"t":"80","f":1000,"v":0.24},{"t":"80","f":1580,"v":0.2},{"t":"80","f":2510,"v":0.166},{"t":"80","f":3980,"v":0.138},{"t":"80","f":6310,"v":0.112},{"t":"80","f":10000,"v":0.0891},{"t":"80","f":15800,"v":0.0692},{"t":"80","f":25100,"v":0.0537},{"t":"80","f":39800,"v":0.0447},{"t":"80","f":63100,"v":0.0427},{"t":"80","f":100000,"v":0.0427},{"t":"80","f":158000,"v":0.0427},{"t":"80","f":251000,"v":0.0427},{"t":"80","f":398000,"v":0.0427},{"t":"80","f":631000,"v":0.0427},{"t":"80","f":1000000,"v":0.0427},{"t":"80","f":1580000,"v":0.0427}
],
"arrA": [{"id":"a1","x":0.35,"y":1.32,"x2":2380,"y2":4.27},{"id":"a2","x":11.8,"y":0.103,"x2":94600,"y2":0.39}],
"txtA": [{"x":3470,"y":6.3,"s":"chitosan"},{"x":3470,"y":4.1,"s":"α-relaxation"},{"x":138000,"y":0.405,"s":"process II"}],
"arrB": [{"id":"b1","x":0.267,"y":16.3,"x2":0.57,"y2":266},{"id":"b2","x":0.214,"y":0.773,"x2":676,"y2":2.5},{"id":"b3","x":10.2,"y":0.0614,"x2":353000,"y2":0.222}],
"txtB": [{"x":1.29,"y":286,"s":"sample-electrode"},{"x":1.29,"y":198,"s":"interfacial polarization"},{"x":1.29,"y":137,"s":"relaxation"},{"x":1164,"y":3.36,"s":"chitosan"},{"x":1164,"y":2.24,"s":"α-relaxation"},{"x":112000,"y":0.257,"s":"process II"}],
"arrC": [{"id":"c1","x":2690,"y":0.0383,"x2":751000,"y2":0.109}],
"txtC": [{"x":269000,"y":0.155,"s":"process II"}],
"arrD": [{"id":"d1","x":0.254,"y":12.3,"x2":0.645,"y2":169},{"id":"d2","x":19.3,"y":0.254,"x2":1178,"y2":0.406},{"id":"d3","x":1315,"y":0.0242,"x2":353000,"y2":0.0645}],
"txtD": [{"x":1.06,"y":281,"s":"sample-electrode"},{"x":1.06,"y":190,"s":"interfacial polarization"},{"x":1.06,"y":134,"s":"relaxation"},{"x":1830,"y":0.514,"s":"chitosan"},{"x":1830,"y":0.347,"s":"α-relaxation"},{"x":173000,"y":0.0883,"s":"process II"}]
},
"concat": [
{
 "width": 323, "height": 295,
 "data": {"name": "a"},
 "resolve": {"axis": {"x": "independent", "y": "independent"}},
 "layer": [
  {"mark": {"type": "line", "strokeWidth": 1.1},
   "encoding": {
    "x": {"field": "f", "type": "quantitative", "scale": {"type": "log", "domain": [0.0614, 2440000], "nice": false}, "axis": {"orient": "bottom", "values": [0.1,1,10,100,1000,10000,100000,1000000], "labelExpr": "['0.01','0.1','1','10','100','10³','10⁴','10⁵','10⁶'][round(log(datum.value)/LN10)+2]", "grid": true, "tickSize": -5, "labelPadding": 17, "title": "f (Hz)", "titlePadding": 5}},
    "y": {"field": "v", "type": "quantitative", "scale": {"type": "log", "domain": [0.0198, 2100], "nice": false}, "axis": {"orient": "left", "values": [0.1,1,10,100,1000], "labelExpr": "['0.01','0.1','1','10','10²','10³'][round(log(datum.value)/LN10)+2]", "grid": true, "tickSize": -5, "labelPadding": 16, "title": "ε''", "titlePadding": 8, "titleFontSize": 17}},
    "stroke": {"field": "t", "type": "nominal", "scale": {"domain": ["80","60","40","30","20","10","0","-10"], "range": ["#ea7a35","#e8201f","#2b86e8","#1f7d33","#f07070","#2b1ec9","#b51fd1","#000000"]}, "legend": null}
   }},
  {"mark": {"type": "point", "filled": true, "size": 75, "strokeWidth": 0, "opacity": 1},
   "encoding": {
    "x": {"field": "f", "type": "quantitative", "scale": {"type": "log", "domain": [0.0614, 2440000], "nice": false}, "axis": {"orient": "top", "values": [0.1,1,10,100,1000,10000,100000,1000000], "labels": false, "grid": false, "tickSize": -5, "title": null}},
    "y": {"field": "v", "type": "quantitative", "scale": {"type": "log", "domain": [0.0198, 2100], "nice": false}, "axis": {"orient": "right", "values": [0.1,1,10,100,1000], "labels": false, "grid": false, "tickSize": -5, "title": null}},
    "color": {"field": "t", "type": "nominal", "scale": {"domain": ["-10","0","10","20","30","40","60","80"], "range": ["#000000","#b51fd1","#2b1ec9","#f07070","#1f7d33","#2b86e8","#e8201f","#ea7a35"]},
     "legend": {"title": null, "orient": "top-right", "offset": 13, "labelExpr": "datum.label + ' ºC'",
      "encoding": {
       "symbols": {"shape": {"value": {"expr": "['M-1.9,-0.08H1.9V0.08H-1.9Z M0,-0.45A0.45,0.45 0 1,1 0,0.45A0.45,0.45 0 1,1 0,-0.45Z','M-1.9,-0.08H1.9V0.08H-1.9Z M0.41,-0.41L0.41,0.41L-0.41,0.41Z','M-1.9,-0.08H1.9V0.08H-1.9Z M0,-0.46L0.45,0.34L-0.45,0.34Z','M-1.9,-0.08H1.9V0.08H-1.9Z M-0.34,-0.34H0.34V0.34H-0.34Z M-0.24,-0.24V0.24H0.24V-0.24Z','M-1.9,-0.08H1.9V0.08H-1.9Z M0,-0.43L0.34,0L0,0.43L-0.34,0Z','M-1.9,-0.08H1.9V0.08H-1.9Z M-0.43,-0.34L0.43,-0.34L0,0.43Z','M-1.9,-0.08H1.9V0.08H-1.9Z M-0.29,0.29L0.29,0.29L0.2,-0.33Z','M-1.9,-0.08H1.9V0.08H-1.9Z M-0.26,-0.26H0.26V0.26H-0.26Z'][indexof(['-10','0','10','20','30','40','60','80'], datum.value)]"}}, "strokeWidth": {"value": 0}, "size": {"value": 196}},
       "labels": {"fill": {"value": {"expr": "['#000000','#c21fd6','#2b1ec9','#e8373a','#1f7d33','#2b86e8','#e8201f','#ea7a35'][indexof(['-10','0','10','20','30','40','60','80'], datum.value)]"}}},
       "legend": {"strokeWidth": {"value": 1.5}}
      }}},
    "shape": {"field": "t", "type": "nominal", "legend": null, "scale": {"domain": ["80","60","40","30","20","10","0","-10"], "range": ["M-0.5,-0.5H0.5V0.5H-0.5Z","M-0.65,0.55L0.65,0.55L0.45,-0.7Z","M-0.9,-0.7L0.9,-0.7L0,0.9Z","M0,-0.9L0.75,0L0,0.9L-0.75,0Z","M-0.72,-0.72H0.72V0.72H-0.72Z M-0.56,-0.56V-0.08H-0.08V-0.56Z M0.08,-0.56V-0.08H0.56V-0.56Z M-0.56,0.08V0.56H-0.08V0.08Z M0.08,0.08V0.56H0.56V0.08Z","M0,-1L0.95,0.75L-0.95,0.75Z","M0.9,-0.9L0.9,0.9L-0.9,0.9Z","M0,-0.95A0.95,0.95 0 1,1 0,0.95A0.95,0.95 0 1,1 0,-0.95Z"]}}
   }},
  {"data": {"name": "arrA"}, "mark": {"type": "rule", "color": "#f3e62a", "strokeWidth": 2.5, "strokeDash": [6,4]},
   "encoding": {
    "x": {"field": "x", "type": "quantitative", "scale": {"type": "log", "domain": [0.0614, 2440000], "nice": false}, "axis": {"orient": "bottom", "values": [0.07,0.08,0.09,0.2,0.3,0.4,0.5,0.6,0.7,0.8,0.9,2,3,4,5,6,7,8,9,20,30,40,50,60,70,80,90,200,300,400,500,600,700,800,900,2000,3000,4000,5000,6000,7000,8000,9000,20000,30000,40000,50000,60000,70000,80000,90000,200000,300000,400000,500000,600000,700000,800000,900000,2000000], "labels": false, "grid": false, "tickSize": -3, "title": null}},
    "y": {"field": "y", "type": "quantitative", "scale": {"type": "log", "domain": [0.0198, 2100], "nice": false}, "axis": {"orient": "left", "values": [0.02,0.03,0.04,0.05,0.06,0.07,0.08,0.09,0.2,0.3,0.4,0.5,0.6,0.7,0.8,0.9,2,3,4,5,6,7,8,9,20,30,40,50,60,70,80,90,200,300,400,500,600,700,800,900,2000], "labels": false, "grid": false, "tickSize": -3, "title": null}},
    "x2": {"field": "x2"}, "y2": {"field": "y2"}
   }},
  {"data": {"name": "txtA"}, "mark": {"type": "text", "align": "left", "baseline": "middle", "font": "Liberation Sans", "fontSize": 8.5, "color": "#333333"},
   "encoding": {
    "x": {"field": "x", "type": "quantitative", "scale": {"type": "log", "domain": [0.0614, 2440000], "nice": false}, "axis": {"orient": "top", "values": [0.07,0.08,0.09,0.2,0.3,0.4,0.5,0.6,0.7,0.8,0.9,2,3,4,5,6,7,8,9,20,30,40,50,60,70,80,90,200,300,400,500,600,700,800,900,2000,3000,4000,5000,6000,7000,8000,9000,20000,30000,40000,50000,60000,70000,80000,90000,200000,300000,400000,500000,600000,700000,800000,900000,2000000], "labels": false, "grid": false, "tickSize": -3, "title": null}},
    "y": {"field": "y", "type": "quantitative", "scale": {"type": "log", "domain": [0.0198, 2100], "nice": false}, "axis": {"orient": "right", "values": [0.02,0.03,0.04,0.05,0.06,0.07,0.08,0.09,0.2,0.3,0.4,0.5,0.6,0.7,0.8,0.9,2,3,4,5,6,7,8,9,20,30,40,50,60,70,80,90,200,300,400,500,600,700,800,900,2000], "labels": false, "grid": false, "tickSize": -3, "title": null}},
    "text": {"field": "s"}
   }},
  {"data": {"values": [{"x": 377, "y": 851, "s": "(a)"}]}, "mark": {"type": "text", "font": "Liberation Serif", "fontWeight": "bold", "fontSize": 13, "color": "black"},
   "encoding": {"x": {"field": "x", "type": "quantitative", "scale": {"type": "log", "domain": [0.0614, 2440000], "nice": false}, "axis": null}, "y": {"field": "y", "type": "quantitative", "scale": {"type": "log", "domain": [0.0198, 2100], "nice": false}, "axis": null}, "text": {"field": "s"}}},
  {"data": {"name": "arrA"}, "transform": [{"filter": "datum.id === 'a1'"}], "mark": {"type": "point", "shape": "triangle-right", "filled": true, "color": "#f3e62a", "size": 60, "angle": -10.4, "opacity": 1},
   "encoding": {"x": {"field": "x2", "type": "quantitative", "scale": {"type": "log", "domain": [0.0614, 2440000], "nice": false}, "axis": null}, "y": {"field": "y2", "type": "quantitative", "scale": {"type": "log", "domain": [0.0198, 2100], "nice": false}, "axis": null}}},
  {"data": {"name": "arrA"}, "transform": [{"filter": "datum.id === 'a2'"}], "mark": {"type": "point", "shape": "triangle-right", "filled": true, "color": "#f3e62a", "size": 60, "angle": -11.6, "opacity": 1},
   "encoding": {"x": {"field": "x2", "type": "quantitative", "scale": {"type": "log", "domain": [0.0614, 2440000], "nice": false}, "axis": null}, "y": {"field": "y2", "type": "quantitative", "scale": {"type": "log", "domain": [0.0198, 2100], "nice": false}, "axis": null}}}
 ]
},
{
 "width": 330, "height": 295,
 "data": {"name": "b"},
 "resolve": {"axis": {"x": "independent", "y": "independent"}},
 "layer": [
  {"mark": {"type": "line", "strokeWidth": 1.1},
   "encoding": {
    "x": {"field": "f", "type": "quantitative", "scale": {"type": "log", "domain": [0.058, 3670000], "nice": false}, "axis": {"orient": "bottom", "values": [0.1,1,10,100,1000,10000,100000,1000000], "labelExpr": "['0.01','0.1','1','10','100','10³','10⁴','10⁵','10⁶'][round(log(datum.value)/LN10)+2]", "grid": true, "tickSize": -5, "labelPadding": 17, "title": "f (Hz)", "titlePadding": 5}},
    "y": {"field": "v", "type": "quantitative", "scale": {"type": "log", "domain": [0.01, 514], "nice": false}, "axis": {"orient": "left", "values": [0.01,0.1,1,10,100], "labelExpr": "['0.01','0.1','1','10','10²','10³'][round(log(datum.value)/LN10)+2]", "grid": true, "tickSize": -5, "labelPadding": 16, "title": "ε''ₖₖ", "titlePadding": 8, "titleFontSize": 17}},
    "stroke": {"field": "t", "type": "nominal", "scale": {"domain": ["80","60","40","30","20","10","0","-10"], "range": ["#ea7a35","#e8201f","#2b86e8","#1f7d33","#f07070","#2b1ec9","#b51fd1","#000000"]}, "legend": null}
   }},
  {"mark": {"type": "point", "filled": true, "size": 75, "strokeWidth": 0, "opacity": 1},
   "encoding": {
    "x": {"field": "f", "type": "quantitative", "scale": {"type": "log", "domain": [0.058, 3670000], "nice": false}, "axis": {"orient": "top", "values": [0.1,1,10,100,1000,10000,100000,1000000], "labels": false, "grid": false, "tickSize": -5, "title": null}},
    "y": {"field": "v", "type": "quantitative", "scale": {"type": "log", "domain": [0.01, 514], "nice": false}, "axis": {"orient": "right", "values": [0.01,0.1,1,10,100], "labels": false, "grid": false, "tickSize": -5, "title": null}},
    "color": {"field": "t", "type": "nominal", "scale": {"domain": ["-10","0","10","20","30","40","60","80"], "range": ["#000000","#b51fd1","#2b1ec9","#f07070","#1f7d33","#2b86e8","#e8201f","#ea7a35"]},
     "legend": {"title": null, "orient": "top-right", "offset": 8, "labelExpr": "datum.label + ' ºC'",
      "encoding": {
       "symbols": {"shape": {"value": {"expr": "['M-1.9,-0.08H1.9V0.08H-1.9Z M0,-0.45A0.45,0.45 0 1,1 0,0.45A0.45,0.45 0 1,1 0,-0.45Z','M-1.9,-0.08H1.9V0.08H-1.9Z M0.41,-0.41L0.41,0.41L-0.41,0.41Z','M-1.9,-0.08H1.9V0.08H-1.9Z M0,-0.46L0.45,0.34L-0.45,0.34Z','M-1.9,-0.08H1.9V0.08H-1.9Z M-0.34,-0.34H0.34V0.34H-0.34Z M-0.24,-0.24V0.24H0.24V-0.24Z','M-1.9,-0.08H1.9V0.08H-1.9Z M0,-0.43L0.34,0L0,0.43L-0.34,0Z','M-1.9,-0.08H1.9V0.08H-1.9Z M-0.43,-0.34L0.43,-0.34L0,0.43Z','M-1.9,-0.08H1.9V0.08H-1.9Z M-0.29,0.29L0.29,0.29L0.2,-0.33Z','M-1.9,-0.08H1.9V0.08H-1.9Z M-0.26,-0.26H0.26V0.26H-0.26Z'][indexof(['-10','0','10','20','30','40','60','80'], datum.value)]"}}, "strokeWidth": {"value": 0}, "size": {"value": 196}},
       "labels": {"fill": {"value": {"expr": "['#000000','#c21fd6','#2b1ec9','#e8373a','#1f7d33','#2b86e8','#e8201f','#ea7a35'][indexof(['-10','0','10','20','30','40','60','80'], datum.value)]"}}},
       "legend": {"strokeWidth": {"value": 1.5}}
      }}},
    "shape": {"field": "t", "type": "nominal", "legend": null, "scale": {"domain": ["80","60","40","30","20","10","0","-10"], "range": ["M-0.5,-0.5H0.5V0.5H-0.5Z","M-0.65,0.55L0.65,0.55L0.45,-0.7Z","M-0.9,-0.7L0.9,-0.7L0,0.9Z","M0,-0.9L0.75,0L0,0.9L-0.75,0Z","M-0.72,-0.72H0.72V0.72H-0.72Z M-0.56,-0.56V-0.08H-0.08V-0.56Z M0.08,-0.56V-0.08H0.56V-0.56Z M-0.56,0.08V0.56H-0.08V0.08Z M0.08,0.08V0.56H0.56V0.08Z","M0,-1L0.95,0.75L-0.95,0.75Z","M0.9,-0.9L0.9,0.9L-0.9,0.9Z","M0,-0.95A0.95,0.95 0 1,1 0,0.95A0.95,0.95 0 1,1 0,-0.95Z"]}}
   }},
  {"data": {"name": "arrB"}, "mark": {"type": "rule", "color": "#f3e62a", "strokeWidth": 2.5, "strokeDash": [6,4]},
   "encoding": {
    "x": {"field": "x", "type": "quantitative", "scale": {"type": "log", "domain": [0.058, 3670000], "nice": false}, "axis": {"orient": "bottom", "values": [0.06,0.07,0.08,0.09,0.2,0.3,0.4,0.5,0.6,0.7,0.8,0.9,2,3,4,5,6,7,8,9,20,30,40,50,60,70,80,90,200,300,400,500,600,700,800,900,2000,3000,4000,5000,6000,7000,8000,9000,20000,30000,40000,50000,60000,70000,80000,90000,200000,300000,400000,500000,600000,700000,800000,900000,2000000,3000000], "labels": false, "grid": false, "tickSize": -3, "title": null}},
    "y": {"field": "y", "type": "quantitative", "scale": {"type": "log", "domain": [0.01, 514], "nice": false}, "axis": {"orient": "left", "values": [0.02,0.03,0.04,0.05,0.06,0.07,0.08,0.09,0.2,0.3,0.4,0.5,0.6,0.7,0.8,0.9,2,3,4,5,6,7,8,9,20,30,40,50,60,70,80,90,200,300,400,500], "labels": false, "grid": false, "tickSize": -3, "title": null}},
    "x2": {"field": "x2"}, "y2": {"field": "y2"}
   }},
  {"data": {"name": "txtB"}, "mark": {"type": "text", "align": "left", "baseline": "middle", "font": "Liberation Sans", "fontSize": 8.5, "color": "#333333"},
   "encoding": {
    "x": {"field": "x", "type": "quantitative", "scale": {"type": "log", "domain": [0.058, 3670000], "nice": false}, "axis": {"orient": "top", "values": [0.06,0.07,0.08,0.09,0.2,0.3,0.4,0.5,0.6,0.7,0.8,0.9,2,3,4,5,6,7,8,9,20,30,40,50,60,70,80,90,200,300,400,500,600,700,800,900,2000,3000,4000,5000,6000,7000,8000,9000,20000,30000,40000,50000,60000,70000,80000,90000,200000,300000,400000,500000,600000,700000,800000,900000,2000000,3000000], "labels": false, "grid": false, "tickSize": -3, "title": null}},
    "y": {"field": "y", "type": "quantitative", "scale": {"type": "log", "domain": [0.01, 514], "nice": false}, "axis": {"orient": "right", "values": [0.02,0.03,0.04,0.05,0.06,0.07,0.08,0.09,0.2,0.3,0.4,0.5,0.6,0.7,0.8,0.9,2,3,4,5,6,7,8,9,20,30,40,50,60,70,80,90,200,300,400,500], "labels": false, "grid": false, "tickSize": -3, "title": null}},
    "text": {"field": "s"}
   }},
  {"data": {"values": [{"x": 574, "y": 221, "s": "(b)"}]}, "mark": {"type": "text", "font": "Liberation Serif", "fontWeight": "bold", "fontSize": 13, "color": "black"},
   "encoding": {"x": {"field": "x", "type": "quantitative", "scale": {"type": "log", "domain": [0.058, 3670000], "nice": false}, "axis": null}, "y": {"field": "y", "type": "quantitative", "scale": {"type": "log", "domain": [0.01, 514], "nice": false}, "axis": null}, "text": {"field": "s"}}},
  {"data": {"name": "arrB"}, "transform": [{"filter": "datum.id === 'b1'"}], "mark": {"type": "point", "shape": "triangle-right", "filled": true, "color": "#f3e62a", "size": 60, "angle": -79.6, "opacity": 1},
   "encoding": {"x": {"field": "x2", "type": "quantitative", "scale": {"type": "log", "domain": [0.058, 3670000], "nice": false}, "axis": null}, "y": {"field": "y2", "type": "quantitative", "scale": {"type": "log", "domain": [0.01, 514], "nice": false}, "axis": null}}},
  {"data": {"name": "arrB"}, "transform": [{"filter": "datum.id === 'b2'"}], "mark": {"type": "point", "shape": "triangle-right", "filled": true, "color": "#f3e62a", "size": 60, "angle": -12.2, "opacity": 1},
   "encoding": {"x": {"field": "x2", "type": "quantitative", "scale": {"type": "log", "domain": [0.058, 3670000], "nice": false}, "axis": null}, "y": {"field": "y2", "type": "quantitative", "scale": {"type": "log", "domain": [0.01, 514], "nice": false}, "axis": null}}},
  {"data": {"name": "arrB"}, "transform": [{"filter": "datum.id === 'b3'"}], "mark": {"type": "point", "shape": "triangle-right", "filled": true, "color": "#f3e62a", "size": 60, "angle": -10.3, "opacity": 1},
   "encoding": {"x": {"field": "x2", "type": "quantitative", "scale": {"type": "log", "domain": [0.058, 3670000], "nice": false}, "axis": null}, "y": {"field": "y2", "type": "quantitative", "scale": {"type": "log", "domain": [0.01, 514], "nice": false}, "axis": null}}}
 ]
},
{
 "width": 334, "height": 289,
 "data": {"name": "c"},
 "resolve": {"axis": {"x": "independent", "y": "independent"}},
 "layer": [
  {"mark": {"type": "line", "strokeWidth": 1.1},
   "encoding": {
    "x": {"field": "f", "type": "quantitative", "scale": {"type": "log", "domain": [0.0687, 4190000], "nice": false}, "axis": {"orient": "bottom", "values": [0.1,1,10,100,1000,10000,100000,1000000], "labelExpr": "['0.01','0.1','1','10','100','10³','10⁴','10⁵','10⁶'][round(log(datum.value)/LN10)+2]", "grid": true, "tickSize": -5, "labelPadding": 15, "title": "f (Hz)", "titlePadding": 4}},
    "y": {"field": "v", "type": "quantitative", "scale": {"type": "log", "domain": [0.0198, 1480], "nice": false}, "axis": {"orient": "left", "values": [0.1,1,10,100,1000], "labelExpr": "['0.01','0.1','1','10','10²','10³'][round(log(datum.value)/LN10)+2]", "grid": true, "tickSize": -5, "labelPadding": 16, "title": "ε''", "titlePadding": 8, "titleFontSize": 17}},
    "stroke": {"field": "t", "type": "nominal", "scale": {"domain": ["80","60","40","30","20","10","0","-10"], "range": ["#ea7a35","#e8201f","#2b86e8","#1f7d33","#f07070","#2b1ec9","#b51fd1","#000000"]}, "legend": null}
   }},
  {"mark": {"type": "point", "filled": true, "size": 75, "strokeWidth": 0, "opacity": 1},
   "encoding": {
    "x": {"field": "f", "type": "quantitative", "scale": {"type": "log", "domain": [0.0687, 4190000], "nice": false}, "axis": {"orient": "top", "values": [0.1,1,10,100,1000,10000,100000,1000000], "labels": false, "grid": false, "tickSize": -5, "title": null}},
    "y": {"field": "v", "type": "quantitative", "scale": {"type": "log", "domain": [0.0198, 1480], "nice": false}, "axis": {"orient": "right", "values": [0.1,1,10,100,1000], "labels": false, "grid": false, "tickSize": -5, "title": null}},
    "color": {"field": "t", "type": "nominal", "scale": {"domain": ["-10","0","10","20","30","40","60","80"], "range": ["#000000","#b51fd1","#2b1ec9","#f07070","#1f7d33","#2b86e8","#e8201f","#ea7a35"]},
     "legend": {"title": null, "orient": "top-right", "offset": 14, "labelExpr": "datum.label + ' ºC'",
      "encoding": {
       "symbols": {"shape": {"value": {"expr": "['M-1.9,-0.08H1.9V0.08H-1.9Z M0,-0.45A0.45,0.45 0 1,1 0,0.45A0.45,0.45 0 1,1 0,-0.45Z','M-1.9,-0.08H1.9V0.08H-1.9Z M0.41,-0.41L0.41,0.41L-0.41,0.41Z','M-1.9,-0.08H1.9V0.08H-1.9Z M0,-0.46L0.45,0.34L-0.45,0.34Z','M-1.9,-0.08H1.9V0.08H-1.9Z M-0.34,-0.34H0.34V0.34H-0.34Z M-0.24,-0.24V0.24H0.24V-0.24Z','M-1.9,-0.08H1.9V0.08H-1.9Z M0,-0.43L0.34,0L0,0.43L-0.34,0Z','M-1.9,-0.08H1.9V0.08H-1.9Z M-0.43,-0.34L0.43,-0.34L0,0.43Z','M-1.9,-0.08H1.9V0.08H-1.9Z M-0.29,0.29L0.29,0.29L0.2,-0.33Z','M-1.9,-0.08H1.9V0.08H-1.9Z M-0.26,-0.26H0.26V0.26H-0.26Z'][indexof(['-10','0','10','20','30','40','60','80'], datum.value)]"}}, "strokeWidth": {"value": 0}, "size": {"value": 196}},
       "labels": {"fill": {"value": {"expr": "['#000000','#c21fd6','#2b1ec9','#e8373a','#1f7d33','#2b86e8','#e8201f','#ea7a35'][indexof(['-10','0','10','20','30','40','60','80'], datum.value)]"}}},
       "legend": {"strokeWidth": {"value": 1.5}}
      }}},
    "shape": {"field": "t", "type": "nominal", "legend": null, "scale": {"domain": ["80","60","40","30","20","10","0","-10"], "range": ["M-0.5,-0.5H0.5V0.5H-0.5Z","M-0.65,0.55L0.65,0.55L0.45,-0.7Z","M-0.9,-0.7L0.9,-0.7L0,0.9Z","M0,-0.9L0.75,0L0,0.9L-0.75,0Z","M-0.72,-0.72H0.72V0.72H-0.72Z M-0.56,-0.56V-0.08H-0.08V-0.56Z M0.08,-0.56V-0.08H0.56V-0.56Z M-0.56,0.08V0.56H-0.08V0.08Z M0.08,0.08V0.56H0.56V0.08Z","M0,-1L0.95,0.75L-0.95,0.75Z","M0.9,-0.9L0.9,0.9L-0.9,0.9Z","M0,-0.95A0.95,0.95 0 1,1 0,0.95A0.95,0.95 0 1,1 0,-0.95Z"]}}
   }},
  {"data": {"name": "arrC"}, "mark": {"type": "rule", "color": "#f3e62a", "strokeWidth": 2.5, "strokeDash": [6,4]},
   "encoding": {
    "x": {"field": "x", "type": "quantitative", "scale": {"type": "log", "domain": [0.0687, 4190000], "nice": false}, "axis": {"orient": "bottom", "values": [0.07,0.08,0.09,0.2,0.3,0.4,0.5,0.6,0.7,0.8,0.9,2,3,4,5,6,7,8,9,20,30,40,50,60,70,80,90,200,300,400,500,600,700,800,900,2000,3000,4000,5000,6000,7000,8000,9000,20000,30000,40000,50000,60000,70000,80000,90000,200000,300000,400000,500000,600000,700000,800000,900000,2000000,3000000,4000000], "labels": false, "grid": false, "tickSize": -3, "title": null}},
    "y": {"field": "y", "type": "quantitative", "scale": {"type": "log", "domain": [0.0198, 1480], "nice": false}, "axis": {"orient": "left", "values": [0.02,0.03,0.04,0.05,0.06,0.07,0.08,0.09,0.2,0.3,0.4,0.5,0.6,0.7,0.8,0.9,2,3,4,5,6,7,8,9,20,30,40,50,60,70,80,90,200,300,400,500,600,700,800,900], "labels": false, "grid": false, "tickSize": -3, "title": null}},
    "x2": {"field": "x2"}, "y2": {"field": "y2"}
   }},
  {"data": {"name": "txtC"}, "mark": {"type": "text", "align": "left", "baseline": "middle", "font": "Liberation Sans", "fontSize": 8.5, "color": "#333333"},
   "encoding": {
    "x": {"field": "x", "type": "quantitative", "scale": {"type": "log", "domain": [0.0687, 4190000], "nice": false}, "axis": {"orient": "top", "values": [0.07,0.08,0.09,0.2,0.3,0.4,0.5,0.6,0.7,0.8,0.9,2,3,4,5,6,7,8,9,20,30,40,50,60,70,80,90,200,300,400,500,600,700,800,900,2000,3000,4000,5000,6000,7000,8000,9000,20000,30000,40000,50000,60000,70000,80000,90000,200000,300000,400000,500000,600000,700000,800000,900000,2000000,3000000,4000000], "labels": false, "grid": false, "tickSize": -3, "title": null}},
    "y": {"field": "y", "type": "quantitative", "scale": {"type": "log", "domain": [0.0198, 1480], "nice": false}, "axis": {"orient": "right", "values": [0.02,0.03,0.04,0.05,0.06,0.07,0.08,0.09,0.2,0.3,0.4,0.5,0.6,0.7,0.8,0.9,2,3,4,5,6,7,8,9,20,30,40,50,60,70,80,90,200,300,400,500,600,700,800,900], "labels": false, "grid": false, "tickSize": -3, "title": null}},
    "text": {"field": "s"}
   }},
  {"data": {"values": [{"x": 433, "y": 630, "s": "(c)"}]}, "mark": {"type": "text", "font": "Liberation Serif", "fontWeight": "bold", "fontSize": 13, "color": "black"},
   "encoding": {"x": {"field": "x", "type": "quantitative", "scale": {"type": "log", "domain": [0.0687, 4190000], "nice": false}, "axis": null}, "y": {"field": "y", "type": "quantitative", "scale": {"type": "log", "domain": [0.0198, 1480], "nice": false}, "axis": null}, "text": {"field": "s"}}},
  {"data": {"name": "arrC"}, "transform": [{"filter": "datum.id === 'c1'"}], "mark": {"type": "point", "shape": "triangle-right", "filled": true, "color": "#f3e62a", "size": 60, "angle": -14.4, "opacity": 1},
   "encoding": {"x": {"field": "x2", "type": "quantitative", "scale": {"type": "log", "domain": [0.0687, 4190000], "nice": false}, "axis": null}, "y": {"field": "y2", "type": "quantitative", "scale": {"type": "log", "domain": [0.0198, 1480], "nice": false}, "axis": null}}}
 ]
},
{
 "width": 326, "height": 288,
 "data": {"name": "d"},
 "resolve": {"axis": {"x": "independent", "y": "independent"}},
 "layer": [
  {"mark": {"type": "line", "strokeWidth": 1.1},
   "encoding": {
    "x": {"field": "f", "type": "quantitative", "scale": {"type": "log", "domain": [0.0645, 3730000], "nice": false}, "axis": {"orient": "bottom", "values": [0.1,1,10,100,1000,10000,100000,1000000], "labelExpr": "['0.01','0.1','1','10','100','10³','10⁴','10⁵','10⁶'][round(log(datum.value)/LN10)+2]", "grid": true, "tickSize": -5, "labelPadding": 15, "title": "f (Hz)", "titlePadding": 4}},
    "y": {"field": "v", "type": "quantitative", "scale": {"type": "log", "domain": [0.01, 810], "nice": false}, "axis": {"orient": "left", "values": [0.01,0.1,1,10,100], "labelExpr": "['0.01','0.1','1','10','10²','10³'][round(log(datum.value)/LN10)+2]", "grid": true, "tickSize": -5, "labelPadding": 16, "title": "ε''ₖₖ", "titlePadding": 8, "titleFontSize": 17}},
    "stroke": {"field": "t", "type": "nominal", "scale": {"domain": ["80","60","40","30","20","10","0","-10"], "range": ["#ea7a35","#e8201f","#2b86e8","#1f7d33","#f07070","#2b1ec9","#b51fd1","#000000"]}, "legend": null}
   }},
  {"mark": {"type": "point", "filled": true, "size": 75, "strokeWidth": 0, "opacity": 1},
   "encoding": {
    "x": {"field": "f", "type": "quantitative", "scale": {"type": "log", "domain": [0.0645, 3730000], "nice": false}, "axis": {"orient": "top", "values": [0.1,1,10,100,1000,10000,100000,1000000], "labels": false, "grid": false, "tickSize": -5, "title": null}},
    "y": {"field": "v", "type": "quantitative", "scale": {"type": "log", "domain": [0.01, 810], "nice": false}, "axis": {"orient": "right", "values": [0.01,0.1,1,10,100], "labels": false, "grid": false, "tickSize": -5, "title": null}},
    "color": {"field": "t", "type": "nominal", "scale": {"domain": ["-10","0","10","20","30","40","60","80"], "range": ["#000000","#b51fd1","#2b1ec9","#f07070","#1f7d33","#2b86e8","#e8201f","#ea7a35"]},
     "legend": {"title": null, "orient": "top-right", "offset": 15, "labelExpr": "datum.label + ' ºC'",
      "encoding": {
       "symbols": {"shape": {"value": {"expr": "['M-1.9,-0.08H1.9V0.08H-1.9Z M0,-0.45A0.45,0.45 0 1,1 0,0.45A0.45,0.45 0 1,1 0,-0.45Z','M-1.9,-0.08H1.9V0.08H-1.9Z M0.41,-0.41L0.41,0.41L-0.41,0.41Z','M-1.9,-0.08H1.9V0.08H-1.9Z M0,-0.46L0.45,0.34L-0.45,0.34Z','M-1.9,-0.08H1.9V0.08H-1.9Z M-0.34,-0.34H0.34V0.34H-0.34Z M-0.24,-0.24V0.24H0.24V-0.24Z','M-1.9,-0.08H1.9V0.08H-1.9Z M0,-0.43L0.34,0L0,0.43L-0.34,0Z','M-1.9,-0.08H1.9V0.08H-1.9Z M-0.43,-0.34L0.43,-0.34L0,0.43Z','M-1.9,-0.08H1.9V0.08H-1.9Z M-0.29,0.29L0.29,0.29L0.2,-0.33Z','M-1.9,-0.08H1.9V0.08H-1.9Z M-0.26,-0.26H0.26V0.26H-0.26Z'][indexof(['-10','0','10','20','30','40','60','80'], datum.value)]"}}, "strokeWidth": {"value": 0}, "size": {"value": 196}},
       "labels": {"fill": {"value": {"expr": "['#000000','#c21fd6','#2b1ec9','#e8373a','#1f7d33','#2b86e8','#e8201f','#ea7a35'][indexof(['-10','0','10','20','30','40','60','80'], datum.value)]"}}},
       "legend": {"strokeWidth": {"value": 1.5}}
      }}},
    "shape": {"field": "t", "type": "nominal", "legend": null, "scale": {"domain": ["80","60","40","30","20","10","0","-10"], "range": ["M-0.5,-0.5H0.5V0.5H-0.5Z","M-0.65,0.55L0.65,0.55L0.45,-0.7Z","M-0.9,-0.7L0.9,-0.7L0,0.9Z","M0,-0.9L0.75,0L0,0.9L-0.75,0Z","M-0.72,-0.72H0.72V0.72H-0.72Z M-0.56,-0.56V-0.08H-0.08V-0.56Z M0.08,-0.56V-0.08H0.56V-0.56Z M-0.56,0.08V0.56H-0.08V0.08Z M0.08,0.08V0.56H0.56V0.08Z","M0,-1L0.95,0.75L-0.95,0.75Z","M0.9,-0.9L0.9,0.9L-0.9,0.9Z","M0,-0.95A0.95,0.95 0 1,1 0,0.95A0.95,0.95 0 1,1 0,-0.95Z"]}}
   }},
  {"data": {"name": "arrD"}, "mark": {"type": "rule", "color": "#f3e62a", "strokeWidth": 2.5, "strokeDash": [6,4]},
   "encoding": {
    "x": {"field": "x", "type": "quantitative", "scale": {"type": "log", "domain": [0.0645, 3730000], "nice": false}, "axis": {"orient": "bottom", "values": [0.07,0.08,0.09,0.2,0.3,0.4,0.5,0.6,0.7,0.8,0.9,2,3,4,5,6,7,8,9,20,30,40,50,60,70,80,90,200,300,400,500,600,700,800,900,2000,3000,4000,5000,6000,7000,8000,9000,20000,30000,40000,50000,60000,70000,80000,90000,200000,300000,400000,500000,600000,700000,800000,900000,2000000,3000000], "labels": false, "grid": false, "tickSize": -3, "title": null}},
    "y": {"field": "y", "type": "quantitative", "scale": {"type": "log", "domain": [0.01, 810], "nice": false}, "axis": {"orient": "left", "values": [0.02,0.03,0.04,0.05,0.06,0.07,0.08,0.09,0.2,0.3,0.4,0.5,0.6,0.7,0.8,0.9,2,3,4,5,6,7,8,9,20,30,40,50,60,70,80,90,200,300,400,500,600,700,800], "labels": false, "grid": false, "tickSize": -3, "title": null}},
    "x2": {"field": "x2"}, "y2": {"field": "y2"}
   }},
  {"data": {"name": "txtD"}, "mark": {"type": "text", "align": "left", "baseline": "middle", "font": "Liberation Sans", "fontSize": 8.5, "color": "#333333"},
   "encoding": {
    "x": {"field": "x", "type": "quantitative", "scale": {"type": "log", "domain": [0.0645, 3730000], "nice": false}, "axis": {"orient": "top", "values": [0.07,0.08,0.09,0.2,0.3,0.4,0.5,0.6,0.7,0.8,0.9,2,3,4,5,6,7,8,9,20,30,40,50,60,70,80,90,200,300,400,500,600,700,800,900,2000,3000,4000,5000,6000,7000,8000,9000,20000,30000,40000,50000,60000,70000,80000,90000,200000,300000,400000,500000,600000,700000,800000,900000,2000000,3000000], "labels": false, "grid": false, "tickSize": -3, "title": null}},
    "y": {"field": "y", "type": "quantitative", "scale": {"type": "log", "domain": [0.01, 810], "nice": false}, "axis": {"orient": "right", "values": [0.02,0.03,0.04,0.05,0.06,0.07,0.08,0.09,0.2,0.3,0.4,0.5,0.6,0.7,0.8,0.9,2,3,4,5,6,7,8,9,20,30,40,50,60,70,80,90,200,300,400,500,600,700,800], "labels": false, "grid": false, "tickSize": -3, "title": null}},
    "text": {"field": "s"}
   }},
  {"data": {"values": [{"x": 1245, "y": 342, "s": "(d)"}]}, "mark": {"type": "text", "font": "Liberation Serif", "fontWeight": "bold", "fontSize": 13, "color": "black"},
   "encoding": {"x": {"field": "x", "type": "quantitative", "scale": {"type": "log", "domain": [0.0645, 3730000], "nice": false}, "axis": null}, "y": {"field": "y", "type": "quantitative", "scale": {"type": "log", "domain": [0.01, 810], "nice": false}, "axis": null}, "text": {"field": "s"}}},
  {"data": {"name": "arrD"}, "transform": [{"filter": "datum.id === 'd1'"}], "mark": {"type": "point", "shape": "triangle-right", "filled": true, "color": "#f3e62a", "size": 60, "angle": -75.8, "opacity": 1},
   "encoding": {"x": {"field": "x2", "type": "quantitative", "scale": {"type": "log", "domain": [0.0645, 3730000], "nice": false}, "axis": null}, "y": {"field": "y2", "type": "quantitative", "scale": {"type": "log", "domain": [0.01, 810], "nice": false}, "axis": null}}},
  {"data": {"name": "arrD"}, "transform": [{"filter": "datum.id === 'd2'"}], "mark": {"type": "point", "shape": "triangle-right", "filled": true, "color": "#f3e62a", "size": 60, "angle": -9.1, "opacity": 1},
   "encoding": {"x": {"field": "x2", "type": "quantitative", "scale": {"type": "log", "domain": [0.0645, 3730000], "nice": false}, "axis": null}, "y": {"field": "y2", "type": "quantitative", "scale": {"type": "log", "domain": [0.01, 810], "nice": false}, "axis": null}}},
  {"data": {"name": "arrD"}, "transform": [{"filter": "datum.id === 'd3'"}], "mark": {"type": "point", "shape": "triangle-right", "filled": true, "color": "#f3e62a", "size": 60, "angle": -13.8, "opacity": 1},
   "encoding": {"x": {"field": "x2", "type": "quantitative", "scale": {"type": "log", "domain": [0.0645, 3730000], "nice": false}, "axis": null}, "y": {"field": "y2", "type": "quantitative", "scale": {"type": "log", "domain": [0.01, 810], "nice": false}, "axis": null}}}
 ]
}
]
}
